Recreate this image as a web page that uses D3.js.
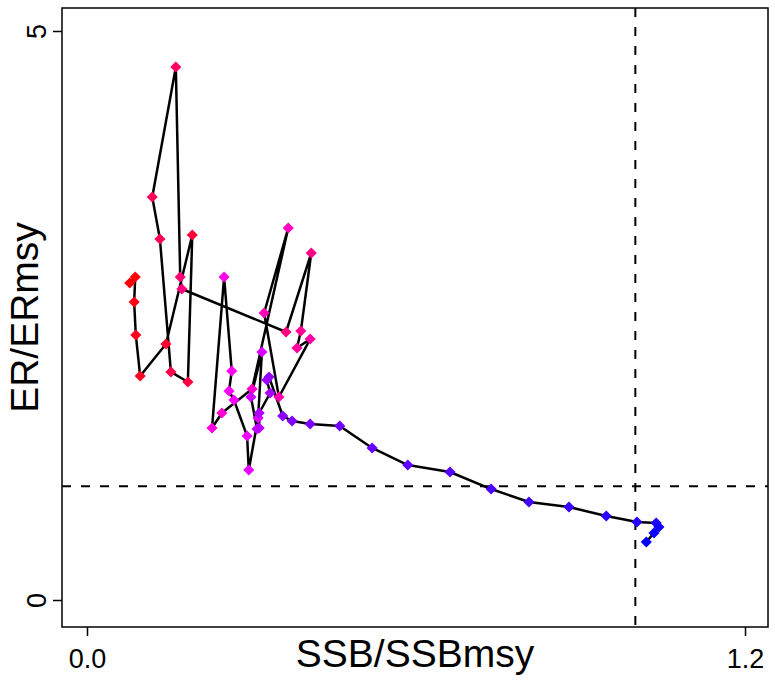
<!DOCTYPE html>
<html>
<head>
<meta charset="utf-8">
<script src="https://cdn.jsdelivr.net/npm/d3@7"></script>
<style>
  html, body { margin: 0; padding: 0; background: #fff; }
  svg { display: block; font-family: "Liberation Sans", Arial, sans-serif; }
</style>
</head>
<body>
<svg id="chart" width="775" height="681"></svg>
<script>
// SSB/SSBmsy (x) and ER/ERmsy (y), in time order (earliest first)
const ssb = [0.078, 0.088, 0.086, 0.089, 0.097, 0.144, 0.192, 0.184, 0.153, 0.133,
             0.119, 0.162, 0.170, 0.173, 0.363, 0.409, 0.390, 0.383, 0.407, 0.350,
             0.323, 0.367, 0.301, 0.246, 0.228, 0.250, 0.264, 0.259, 0.268, 0.292,
             0.295, 0.312, 0.319, 0.299, 0.310, 0.314, 0.314, 0.334, 0.328, 0.332,
             0.357, 0.374, 0.407, 0.461, 0.520, 0.585, 0.662, 0.737, 0.806, 0.879,
             0.947, 1.003, 1.038, 1.043, 1.034, 1.020];
const er  = [2.786, 2.838, 2.619, 2.329, 1.968, 2.250, 3.207, 1.916, 2.004, 3.172,
             3.541, 4.684, 2.838, 2.733, 2.355, 3.049, 2.364, 2.214, 2.293, 1.784,
             2.522, 3.269, 1.854, 1.643, 1.511, 2.838, 2.012, 1.837, 1.757, 1.441,
             1.142, 1.599, 2.179, 1.784, 1.503, 1.511, 1.643, 1.819, 1.933, 1.960,
             1.617, 1.573, 1.547, 1.529, 1.336, 1.186, 1.125, 0.975, 0.861, 0.817,
             0.738, 0.685, 0.677, 0.641, 0.589, 0.510];
const xTicks = [0, 1.2];
const yTicks = [0, 5];
const refSSB = 1;
const refER = 1;
const xLabel = "SSB/SSBmsy";
const yLabel = "ER/ERmsy";

const svg = d3.select("#chart");
const L = 62, R = 768, T = 8, B = 627;

const x = d3.scaleLinear().domain([-0.04559, 1.24193]).range([L, R]);
const y = d3.scaleLinear().domain([-0.2373, 5.2021]).range([B, T]);

const n = ssb.length;
const color = i => d3.hsl(360 - 120 * i / (n - 1), 1, 0.5).formatHex();

// reference lines
svg.append("line")
  .attr("x1", x(refSSB)).attr("x2", x(refSSB)).attr("y1", T).attr("y2", B)
  .attr("stroke", "#000").attr("stroke-width", 2).attr("stroke-dasharray", "9,10");
svg.append("line")
  .attr("x1", L).attr("x2", R).attr("y1", y(refER)).attr("y2", y(refER))
  .attr("stroke", "#000").attr("stroke-width", 2).attr("stroke-dasharray", "9,10");

// trajectory
const pts = ssb.map((v, i) => [v, er[i]]);
svg.append("path")
  .datum(pts)
  .attr("fill", "none")
  .attr("stroke", "#000")
  .attr("stroke-width", 2.5)
  .attr("stroke-linejoin", "round")
  .attr("d", d3.line().x(d => x(d[0])).y(d => y(d[1])));

svg.append("g").selectAll("path")
  .data(pts)
  .join("path")
  .attr("transform", d => `translate(${x(d[0])},${y(d[1])}) rotate(45)`)
  .attr("d", d3.symbol().type(d3.symbolSquare).size(62)())
  .attr("fill", (d, i) => color(i));

// box
svg.append("rect")
  .attr("x", L).attr("y", T).attr("width", R - L).attr("height", B - T)
  .attr("fill", "none").attr("stroke", "#000").attr("stroke-width", 1.5);

// x axis
const xAxis = svg.append("g")
  .attr("transform", `translate(0,${B})`)
  .call(d3.axisBottom(x).tickValues(xTicks).tickFormat(d3.format(".1f")).tickSize(9).tickSizeOuter(0));
xAxis.select(".domain").remove();
xAxis.selectAll("line").attr("stroke-width", 1.5);
xAxis.selectAll("text")
  .attr("font-size", 27).attr("font-family", "Liberation Sans, Arial, sans-serif")
  .attr("fill", "#000").attr("dy", null).attr("y", 41);

// y axis
const yAxis = svg.append("g")
  .attr("transform", `translate(${L},0)`)
  .call(d3.axisLeft(y).tickValues(yTicks).tickFormat(d3.format("d")).tickSize(9).tickSizeOuter(0));
yAxis.select(".domain").remove();
yAxis.selectAll("line").attr("stroke-width", 1.5);
yAxis.selectAll("text")
  .attr("font-size", 27).attr("font-family", "Liberation Sans, Arial, sans-serif")
  .attr("fill", "#000")
  .attr("x", null).attr("dy", null)
  .attr("text-anchor", "middle")
  .attr("transform", "translate(-16,0) rotate(-90)");

// axis titles
svg.append("text")
  .attr("x", (L + R) / 2).attr("y", 667)
  .attr("text-anchor", "middle")
  .attr("font-size", 39)
  .text(xLabel);
svg.append("text")
  .attr("transform", `translate(38,${(T + B) / 2}) rotate(-90)`)
  .attr("text-anchor", "middle")
  .attr("font-size", 39)
  .text(yLabel);
</script>
</body>
</html>
